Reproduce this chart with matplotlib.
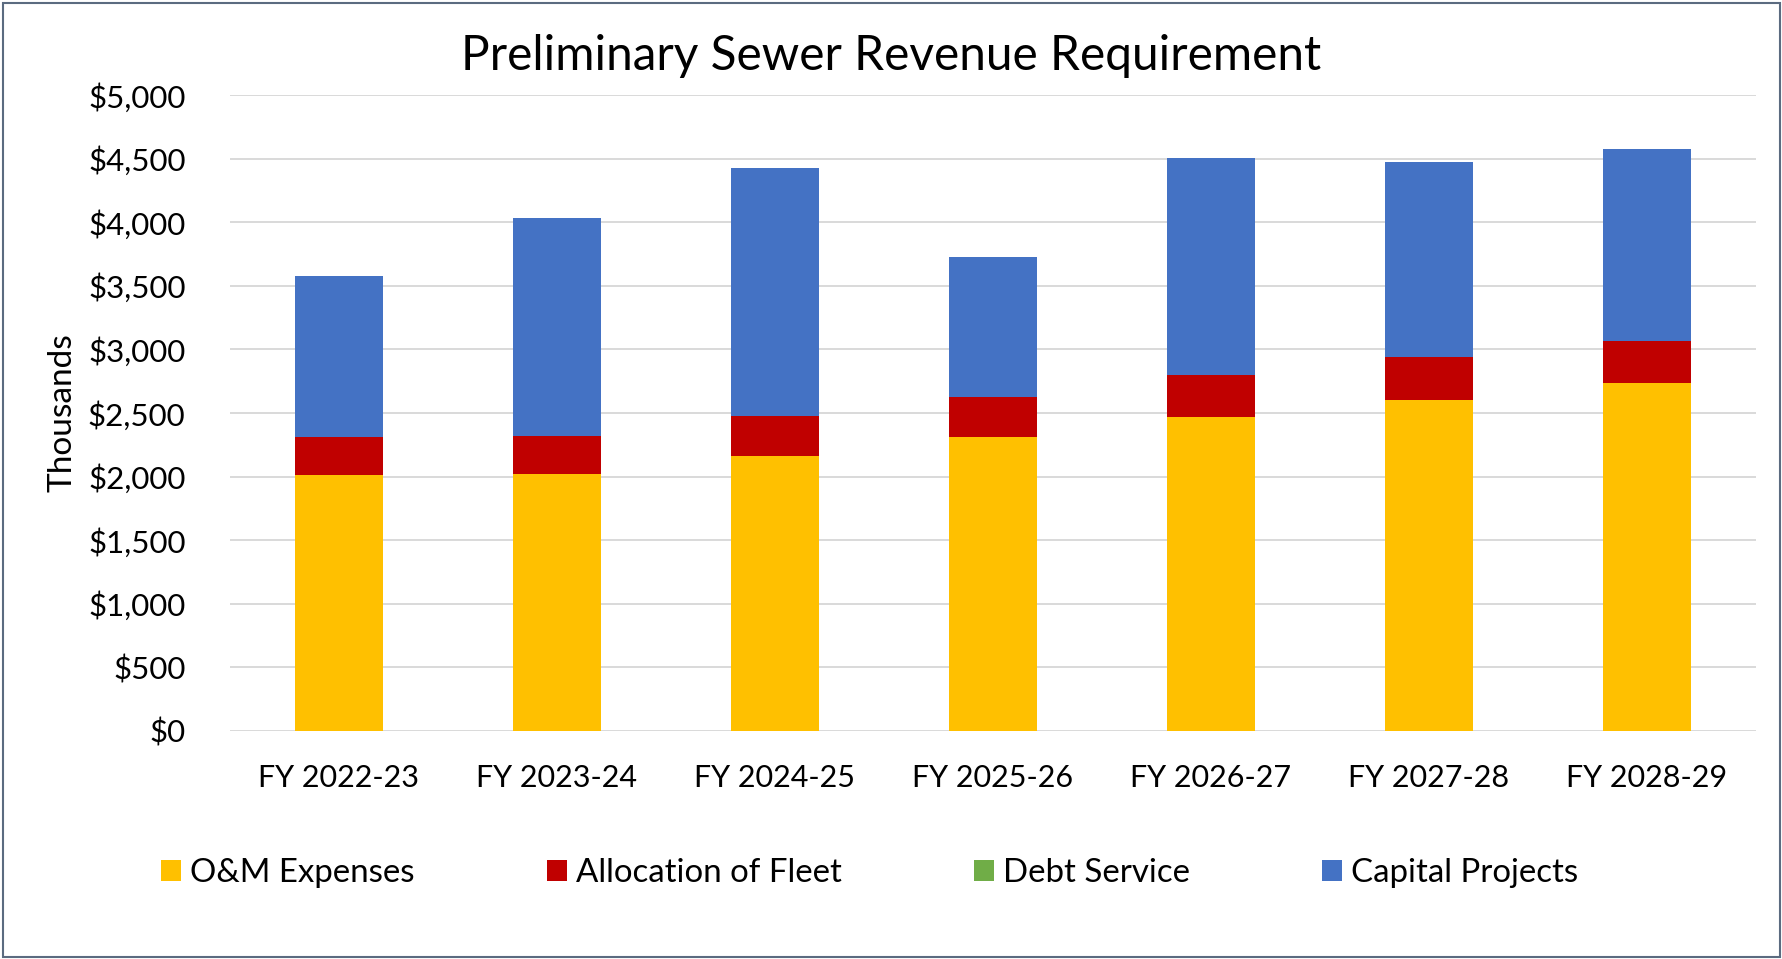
import numpy as np
import matplotlib.pyplot as plt
from matplotlib.ticker import FuncFormatter
from matplotlib.patches import Rectangle, Patch

#Data for chart (thousands of dollars)
years = ["FY 2022-23", "FY 2023-24", "FY 2024-25", "FY 2025-26", "FY 2026-27", "FY 2027-28", "FY 2028-29"]
om_expenses = [2011, 2020, 2163, 2315, 2467, 2599, 2735]
fleet = [304, 301, 317, 314, 334, 338, 334]
debt_service = [0, 0, 0, 0, 0, 0, 0]
capital_projects = [1260, 1713, 1948, 1098, 1700, 1534, 1504]

series_names = ["O&M Expenses", "Allocation of Fleet", "Debt Service", "Capital Projects"]
colors = ["#FFC000", "#C00000", "#70AD47", "#4472C4"]

plt.rcParams['font.family'] = ['Lato', 'DejaVu Sans']

fig = plt.figure(figsize=(17.83, 9.59), dpi=100)
ax = fig.add_axes([230/1783, 1-731/959, 1526/1783, (731-95)/959])

#Stacked bars
x = np.arange(len(years))
bottom = np.zeros(len(years))
for vals, col in zip([om_expenses, fleet, debt_service, capital_projects], colors):
    ax.bar(x, vals, width=0.4, bottom=bottom, color=col, zorder=3)
    bottom += np.array(vals)

#Axes styling
ax.set_xlim(-0.5, len(years)-0.5)
ax.set_ylim(0, 5000)
ax.set_yticks(np.arange(0, 5001, 500))
ax.yaxis.set_major_formatter(FuncFormatter(lambda v, _: f"${v:,.0f}"))
ax.set_xticks(x)
ax.set_xticklabels(years)
ax.tick_params(axis='both', length=0, labelsize=22, colors='black')
ax.tick_params(axis='y', labelsize=22.5, pad=32)
ax.tick_params(axis='x', pad=24)
ax.grid(axis='y', color='#D9D9D9', linewidth=1.4, zorder=0)
for s in ax.spines.values():
    s.set_visible(False)

ax.set_ylabel("Thousands", fontsize=24, va='center')
ax.yaxis.set_label_coords(-0.11, 0.5)

#Title
fig.text(0.5, 1-70/959, "Preliminary Sewer Revenue Requirement", ha='center', va='baseline', fontsize=34.4)

#Legend
handles = [Patch(facecolor=c) for c in colors]
fig.legend(handles, series_names, loc='center left', bbox_to_anchor=(161/1783, 1-873/959),
           ncol=4, frameon=False, fontsize=23.8, handlelength=0.61, handleheight=0.61,
           handletextpad=0.27, columnspacing=4.0, borderpad=0, borderaxespad=0)

#Outer border
fig.patches.append(Rectangle((0.0015, 0.002), 0.997, 0.995, transform=fig.transFigure,
                             fill=False, edgecolor='#5B6B80', linewidth=1.5))

fig.savefig("out.png", dpi=100)
